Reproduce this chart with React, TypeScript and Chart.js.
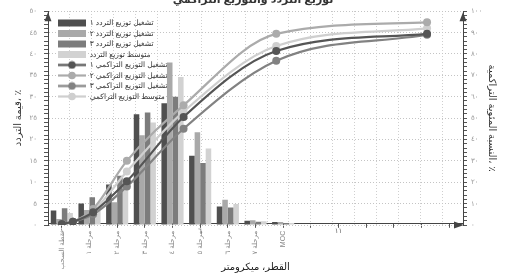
import React, { useEffect, useRef } from 'react';
import { Chart, registerables } from 'chart.js';

Chart.register(...registerables);

// ---------- data ----------
const categories = ['نقطة السحب', 'مرحلة ١', 'مرحلة ٢', 'مرحلة ٣', 'مرحلة ٤', 'مرحلة ٥', 'مرحلة ٦', 'مرحلة ٧', 'MOC'];
const categoryX = [1, 2, 3, 4, 5, 6, 7, 8, 9];

const freqRun1 = [3.4, 5.0, 9.5, 25.9, 28.5, 16.2, 4.3, 1.0, 0.7];
const freqRun2 = [1.4, 3.5, 5.3, 21.0, 38.0, 21.7, 5.9, 1.1, 0.7];
const freqRun3 = [3.9, 6.5, 11.5, 26.3, 30.0, 14.5, 4.1, 0.75, 0.45];
const freqMean = [2.8, 3.3, 8.5, 24.0, 34.6, 17.9, 4.9, 0.9, 0.45];

const cumX = [1, 1.4, 2.13, 3.35, 5.4, 8.75, 14.2];
const cumRun1 = [0.5, 1.5, 6.0, 20.5, 50.5, 81.4, 89.4];
const cumRun2 = [0.5, 1.5, 7.5, 30.0, 56.0, 89.4, 94.8];
const cumRun3 = [0.5, 1.5, 5.0, 18.0, 45.0, 76.8, 89.0];
const cumMean = [0.5, 1.5, 6.5, 25.0, 53.0, 83.7, 92.0];

const sizeTickValues = [1, 2, 3, 4, 5, 6, 7, 8, 9, 10, 11, 12, 13, 14, 15];
const sizeNumberTicks = [1, 6, 11];
const sizeNumberLabels = ['١', '٦', '١١'];
const freqTickLabels = ['٠', '٥', '١٠', '١٥', '٢٠', '٢٥', '٣٠', '٣٥', '٤٠', '٤٥', '٥٠'];
const cumTickLabels = ['٠', '١٠', '٢٠', '٣٠', '٤٠', '٥٠', '٦٠', '٧٠', '٨٠', '٩٠', '١٠٠'];
const freqTickValues = Array.from({ length: 51 }, (_, i) => i);
const cumTickValues = Array.from({ length: 51 }, (_, i) => i * 2);
const gridTickValues = Array.from({ length: 18 }, (_, i) => i);

const FONT = "'Liberation Sans', 'DejaVu Sans', sans-serif";

const C_DARK = '#4f4f4f';
const C_LGRAY = '#a9a9a9';
const C_MED = '#7c7c7c';
const C_LIGHT = '#d2d2d2';

function makeSwatch(ds: any): HTMLCanvasElement {
  const c = document.createElement('canvas');
  c.width = 28;
  c.height = 9;
  const g = c.getContext('2d')!;
  const col = ds.borderColor || ds.backgroundColor;
  if (ds.type === 'line') {
    g.strokeStyle = col;
    g.lineWidth = 2.2;
    g.beginPath();
    g.moveTo(0, 4.5);
    g.lineTo(28, 4.5);
    g.stroke();
    g.fillStyle = col;
    g.beginPath();
    g.arc(14, 4.5, 3.8, 0, Math.PI * 2);
    g.fill();
  } else {
    g.fillStyle = ds.backgroundColor;
    g.fillRect(0, 1, 28, 7);
  }
  return c;
}

const setTicks = (vals: number[]) => (scale: any) => {
  scale.ticks = vals.map((v) => ({ value: v }));
};

const arrowPlugin = {
  id: 'axisArrows',
  afterDraw(chart: any) {
    const { ctx } = chart;
    const { left, right, top, bottom } = chart.chartArea;
    ctx.save();
    ctx.fillStyle = '#444';
    ctx.beginPath();
    ctx.moveTo(left, top + 1);
    ctx.lineTo(left - 3.5, top + 10);
    ctx.lineTo(left + 3.5, top + 10);
    ctx.closePath();
    ctx.fill();
    ctx.beginPath();
    ctx.moveTo(right, top + 1);
    ctx.lineTo(right - 3.5, top + 10);
    ctx.lineTo(right + 3.5, top + 10);
    ctx.closePath();
    ctx.fill();
    ctx.beginPath();
    ctx.moveTo(right + 1, bottom);
    ctx.lineTo(right - 9, bottom - 3.5);
    ctx.lineTo(right - 9, bottom + 3.5);
    ctx.closePath();
    ctx.fill();
    ctx.restore();
  },
};

// secondary (horizontal) numeric labels under the size axis
const sizeNumberPlugin = {
  id: 'sizeNumbers',
  afterDraw(chart: any) {
    const sx = chart.scales.x;
    const { ctx } = chart;
    ctx.save();
    ctx.fillStyle = '#666';
    ctx.font = `7px ${FONT}`;
    ctx.textAlign = 'center';
    ctx.textBaseline = 'top';
    sizeNumberTicks.forEach((v, i) => {
      ctx.fillText(sizeNumberLabels[i], sx.getPixelForValue(v), sx.top + 4);
    });
    ctx.restore();
  },
};

const legendOffsetPlugin = {
  id: 'legendOffset',
  afterLayout(chart: any) {
    const lg = chart.legend;
    if (lg) {
      lg.left = chart.chartArea.left + 7;
      lg.top = chart.chartArea.top + 5;
    }
  },
};

export default function App() {
  const ref = useRef<HTMLCanvasElement>(null);

  useEffect(() => {
    const canvas = ref.current;
    if (!canvas) return;

    const bar = (label: string, values: number[], color: string) => ({
      type: 'bar' as const,
      label,
      data: categoryX.map((x, i) => ({ x, y: values[i] })),
      backgroundColor: color,
      borderWidth: 0,
      categoryPercentage: 0.8,
      barPercentage: 1,
      xAxisID: 'x',
      yAxisID: 'y',
      order: 1,
    });
    const line = (label: string, values: number[], color: string) => ({
      type: 'line' as const,
      label,
      data: cumX.map((x, i) => ({ x, y: values[i] })),
      borderColor: color,
      backgroundColor: color,
      borderWidth: 2.2,
      pointRadius: 4,
      pointBorderWidth: 0,
      pointBackgroundColor: color,
      cubicInterpolationMode: 'monotone' as const,
      fill: false,
      xAxisID: 'x',
      yAxisID: 'y1',
      order: 0,
    });

    const chart = new Chart(canvas, {
      type: 'bar',
      data: {
        datasets: [
          bar('تشغيل توزيع التردد ١', freqRun1, C_DARK),
          bar('تشغيل توزيع التردد ٢', freqRun2, C_LGRAY),
          bar('تشغيل توزيع التردد ٣', freqRun3, C_MED),
          bar('متوسط توزيع التردد', freqMean, C_LIGHT),
          line('تشغيل التوزيع التراكمي ١', cumRun1, '#555555'),
          line('تشغيل التوزيع التراكمي ٢', cumRun2, '#ababab'),
          line('تشغيل التوزيع التراكمي ٣', cumRun3, '#828282'),
          line('متوسط التوزيع التراكمي', cumMean, '#cfcfcf'),
        ] as any,
      },
      options: {
        responsive: false,
        animation: false,
        devicePixelRatio: 1,
        layout: { padding: { top: 6, left: 0, right: 0, bottom: 0 } },
        plugins: {
          title: {
            display: true,
            text: 'توزيع التردد والتوزيع التراكمي',
            color: '#333',
            font: { family: FONT, size: 11, weight: 'bold' },
            padding: { top: -18, bottom: 3.6 },
          },
          tooltip: { enabled: false },
          legend: {
            display: true,
            position: 'chartArea' as any,
            align: 'start',
            labels: {
              usePointStyle: true,
              pointStyleWidth: 28,
              boxHeight: 8,
              padding: 3,
              color: '#333',
              font: { family: FONT, size: 7.5 },
              sort: (a: any, b: any) => a.datasetIndex - b.datasetIndex,
              generateLabels: (ch: any) => {
                const items = (Chart.defaults.plugins.legend.labels as any).generateLabels(ch);
                return items.map((it: any) => ({
                  ...it,
                  pointStyle: makeSwatch(ch.data.datasets[it.datasetIndex]),
                }));
              },
            },
          },
        },
        scales: {
          x: {
            type: 'linear',
            position: 'bottom',
            min: 0.5,
            max: 15.5,
            offset: false,
            stacked: false,
            afterBuildTicks: setTicks(sizeTickValues),
            afterFit: (s: any) => {
              s.height = 53;
            },
            ticks: {
              autoSkip: false,
              minRotation: 90,
              maxRotation: 90,
              padding: 3,
              color: '#888',
              font: { family: FONT, size: 7 },
              callback: (v: any) => categories[v - 1] ?? '',
            },
            grid: { display: true, drawOnChartArea: false, drawTicks: true, tickLength: 4, tickColor: '#555', offset: false },
            border: { display: true, color: '#444', width: 1 },
            title: {
              display: true,
              text: 'القطر، ميكرومتر',
              color: '#222',
              font: { family: FONT, size: 10 },
              padding: { top: 0, bottom: 4 },
            },
          } as any,
          xg: {
            type: 'linear',
            position: 'top',
            min: 0.05,
            max: 17.9,
            afterBuildTicks: setTicks(gridTickValues),
            ticks: { display: false },
            grid: { display: true, drawTicks: false, color: '#cfcfcf', lineWidth: 1 },
            border: { display: false, dash: [1, 2] },
          } as any,
          y: {
            type: 'linear',
            position: 'left',
            min: 0,
            max: 50,
            afterBuildTicks: setTicks(freqTickValues),
            afterFit: (s: any) => {
              s.width = 48;
            },
            ticks: {
              autoSkip: false,
              padding: 7,
              color: '#999',
              font: { family: FONT, size: 7 },
              callback: (v: any) => (v % 5 === 0 ? freqTickLabels[v / 5] : ''),
            },
            grid: {
              color: (c: any) => (c.tick && c.tick.value % 5 === 0 ? '#c4c4c4' : 'rgba(0,0,0,0)'),
              tickColor: '#555',
              tickLength: 4,
              lineWidth: 1,
            },
            border: { display: true, color: '#444', width: 1, dash: [1, 2] },
            title: {
              display: true,
              text: 'قيمة التردد، ٪',
              color: '#333',
              font: { family: FONT, size: 10 },
              padding: { top: 12, bottom: 0 },
            },
          } as any,
          y1: {
            type: 'linear',
            position: 'right',
            min: 0,
            max: 100,
            afterBuildTicks: setTicks(cumTickValues),
            afterFit: (s: any) => {
              s.width = 43;
            },
            ticks: {
              autoSkip: false,
              padding: 4,
              color: '#999',
              font: { family: FONT, size: 7 },
              callback: (v: any) => (v % 10 === 0 ? cumTickLabels[v / 10] : ''),
            },
            grid: { drawOnChartArea: false, tickColor: '#555', tickLength: 4 },
            border: { display: true, color: '#444', width: 1 },
            title: {
              display: true,
              text: 'النسبة المئوية التراكمية، ٪',
              color: '#333',
              font: { family: FONT, size: 10 },
              padding: { top: 8, bottom: 0 },
            },
          } as any,
        },
      } as any,
      plugins: [arrowPlugin, sizeNumberPlugin, legendOffsetPlugin],
    });

    return () => chart.destroy();
  }, []);

  return (
    <div style={{ position: 'absolute', left: 0, top: 0, width: 506, height: 278, background: '#fff' }}>
      <canvas ref={ref} width={506} height={278} style={{ display: 'block', width: 506, height: 278 }} />
    </div>
  );
}
